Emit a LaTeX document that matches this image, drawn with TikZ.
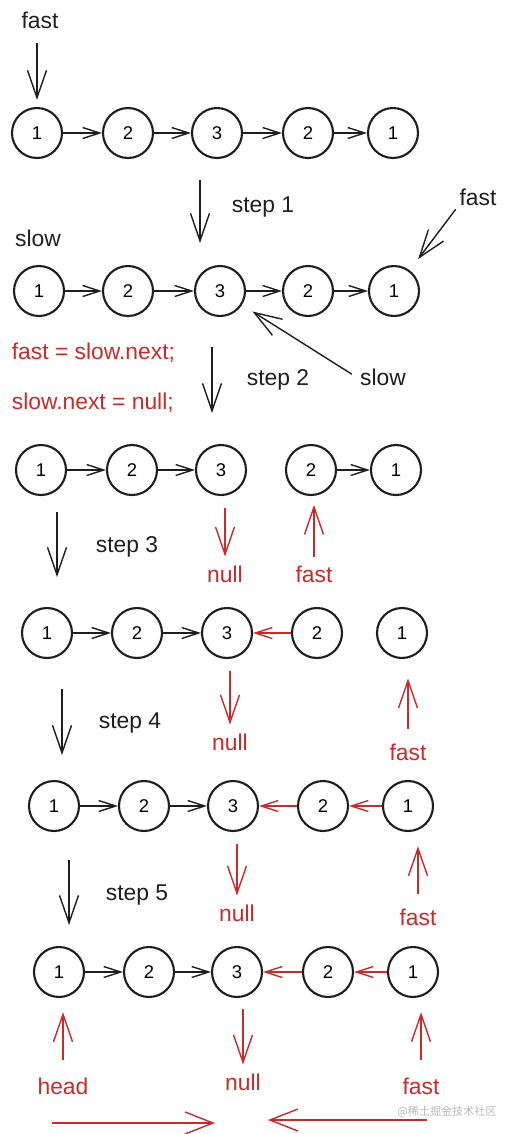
\documentclass[tikz,border=0pt]{standalone}
\usepackage{fontspec}
\setmainfont{Liberation Sans}
\newfontfamily\cjkfont{Noto Sans CJK SC}
\usepackage{tikz}
\usetikzlibrary{arrows.meta, positioning}
\definecolor{inkdark}{RGB}{30,30,30}
\definecolor{inkred}{RGB}{201,42,42}
\definecolor{wmgray}{RGB}{185,185,185}
\tikzset{
  lnode/.style={circle, draw=inkdark, line width=1.2pt, minimum size=1cm,
    inner sep=0pt, font=\fontsize{10.5}{12}\selectfont},
  link/.style={-{Straight Barb[length=3.4mm, width=2.2mm]}, line width=0.8pt, color=inkdark},
  redlink/.style={link, color=inkred},
  ptr/.style={-{Straight Barb[length=5.5mm, width=3.8mm]}, line width=0.8pt, color=inkdark},
  redptr/.style={ptr, color=inkred},
  bigptr/.style={-{Straight Barb[length=5.6mm, width=4.4mm]}, line width=0.8pt, color=inkred},
  lbl/.style={font=\fontsize{13}{15}\selectfont, text=inkdark, inner sep=2pt},
  redlbl/.style={lbl, text=inkred}
}

\begin{document}
\begin{tikzpicture}[x=0.02cm, y=-0.02cm]
  \useasboundingbox (0,0) rectangle (512,1134);

  % Row 1: start
  \node[lnode] (a1) at (37,133) {1};
  \node[lnode] (a2) at (128,133) {2};
  \node[lnode] (a3) at (217,133) {3};
  \node[lnode] (a4) at (308,133) {2};
  \node[lnode] (a5) at (393,133) {1};
  \node[lbl] (fa) at (40,20) {fast};
  \draw[ptr, shorten <=6pt, shorten >=4pt] (fa.south -| a1) -- (a1);
  \draw[link] (a1) -- (a2);
  \draw[link] (a2) -- (a3);
  \draw[link] (a3) -- (a4);
  \draw[link] (a4) -- (a5);

  % step 1
  \coordinate (s1a) at (200,180);
  \coordinate (s1b) at (200,243);
  \draw[ptr] (s1a) -- (s1b);
  \node[lbl] (st1) at (263,207) {step 1};

  % Row 2: slow in the middle, fast at the end
  \node[lnode] (b1) at (39,291) {1};
  \node[lnode] (b2) at (128,291) {2};
  \node[lnode] (b3) at (220,291) {3};
  \node[lnode] (b4) at (308,291) {2};
  \node[lnode] (b5) at (394,291) {1};
  \draw[link] (b1) -- (b2);
  \draw[link] (b2) -- (b3);
  \draw[link] (b3) -- (b4);
  \draw[link] (b4) -- (b5);
  \node[lbl] (sl1) at (38,238) {slow};
  \node[lbl] (fb) at (478,197) {fast};
  \draw[ptr, shorten >=8pt] (fb.south west) -- (b5);
  \node[lbl] (sl2) at (383,377) {slow};
  \draw[ptr, shorten <=3pt, shorten >=7pt] (sl2.west) -- (b3);

  % code
  \node[redlbl, anchor=west] (code1) at (8,353) {fast = slow.next;};
  \node[redlbl, anchor=west] (code2) at (8,403) {slow.next = null;};

  % step 2
  \coordinate (s2a) at (212,347);
  \coordinate (s2b) at (212,413);
  \draw[ptr] (s2a) -- (s2b);
  \node[lbl] (st2) at (278,380) {step 2};

  % Row 3: list cut in two
  \node[lnode] (c1) at (41,470) {1};
  \node[lnode] (c2) at (132,470) {2};
  \node[lnode] (c3) at (221,470) {3};
  \node[lnode] (c4) at (311,470) {2};
  \node[lnode] (c5) at (396,470) {1};
  \draw[link] (c1) -- (c2);
  \draw[link] (c2) -- (c3);
  \draw[link] (c4) -- (c5);
  \node[redlbl] (nc) at (225,574) {null};
  \draw[redptr, shorten <=7pt, shorten >=3pt] (nc |- c3.south) -- (nc.north);
  \node[redlbl] (fc) at (314,574) {fast};
  \draw[redptr, shorten <=3pt, shorten >=5pt] (fc.north) -- (fc |- c4.south);

  % step 3
  \coordinate (s3a) at (57,512);
  \coordinate (s3b) at (57,577);
  \draw[ptr] (s3a) -- (s3b);
  \node[lbl] (st3) at (127,547) {step 3};

  % Row 4
  \node[lnode] (d1) at (47,633) {1};
  \node[lnode] (d2) at (137,633) {2};
  \node[lnode] (d3) at (227,633) {3};
  \node[lnode] (d4) at (317,633) {2};
  \node[lnode] (d5) at (402,633) {1};
  \draw[link] (d1) -- (d2);
  \draw[link] (d2) -- (d3);
  \draw[redlink] (d4) -- (d3);
  \node[redlbl] (nd) at (230,742) {null};
  \draw[redptr, shorten <=7pt, shorten >=3pt] (nd |- d3.south) -- (nd.north);
  \node[redlbl] (fd) at (408,752) {fast};
  \draw[redptr, shorten <=6pt, shorten >=11pt] (fd.north) -- (fd |- d5.south);

  % step 4
  \coordinate (s4a) at (62,689);
  \coordinate (s4b) at (62,755);
  \draw[ptr] (s4a) -- (s4b);
  \node[lbl] (st4) at (130,723) {step 4};

  % Row 5
  \node[lnode] (e1) at (54,806) {1};
  \node[lnode] (e2) at (144,806) {2};
  \node[lnode] (e3) at (233,806) {3};
  \node[lnode] (e4) at (323,806) {2};
  \node[lnode] (e5) at (408,806) {1};
  \draw[link] (e1) -- (e2);
  \draw[link] (e2) -- (e3);
  \draw[redlink] (e4) -- (e3);
  \draw[redlink] (e5) -- (e4);
  \node[redlbl] (ne) at (237,913) {null};
  \draw[redptr, shorten <=7pt, shorten >=3pt] (ne |- e3.south) -- (ne.north);
  \node[redlbl] (fe) at (418,917) {fast};
  \draw[redptr, shorten <=6pt, shorten >=8pt] (fe.north) -- (fe |- e5.south);

  % step 5
  \coordinate (s5a) at (69,860);
  \coordinate (s5b) at (69,925);
  \draw[ptr] (s5a) -- (s5b);
  \node[lbl] (st5) at (137,895) {step 5};

  % Row 6: compare from both ends
  \node[lnode] (g1) at (59,972) {1};
  \node[lnode] (g2) at (149,972) {2};
  \node[lnode] (g3) at (237,972) {3};
  \node[lnode] (g4) at (328,972) {2};
  \node[lnode] (g5) at (413,972) {1};
  \draw[link] (g1) -- (g2);
  \draw[link] (g2) -- (g3);
  \draw[redlink] (g4) -- (g3);
  \draw[redlink] (g5) -- (g4);
  \node[redlbl] (hg) at (63,1086) {head};
  \draw[redptr, shorten <=8pt, shorten >=8pt] (hg.north) -- (hg |- g1.south);
  \node[redlbl] (ng) at (243,1082) {null};
  \draw[redptr, shorten <=6pt, shorten >=3pt] (ng |- g3.south) -- (ng.north);
  \node[redlbl] (fg) at (421,1086) {fast};
  \draw[redptr, shorten <=8pt, shorten >=8pt] (fg.north) -- (fg |- g5.south);

  % walking towards the middle
  \coordinate (ml) at (52,1123);
  \coordinate (mc1) at (215,1123);
  \coordinate (mr) at (427,1120);
  \coordinate (mc2) at (268,1120);
  \draw[bigptr] (ml) -- (mc1);
  \draw[bigptr] (mr) -- (mc2);

  % watermark
  \node[text=wmgray, font=\cjkfont\fontsize{6.3}{7}\selectfont] (wm) at (447,1112) {@稀土掘金技术社区};
\end{tikzpicture}
\end{document}
